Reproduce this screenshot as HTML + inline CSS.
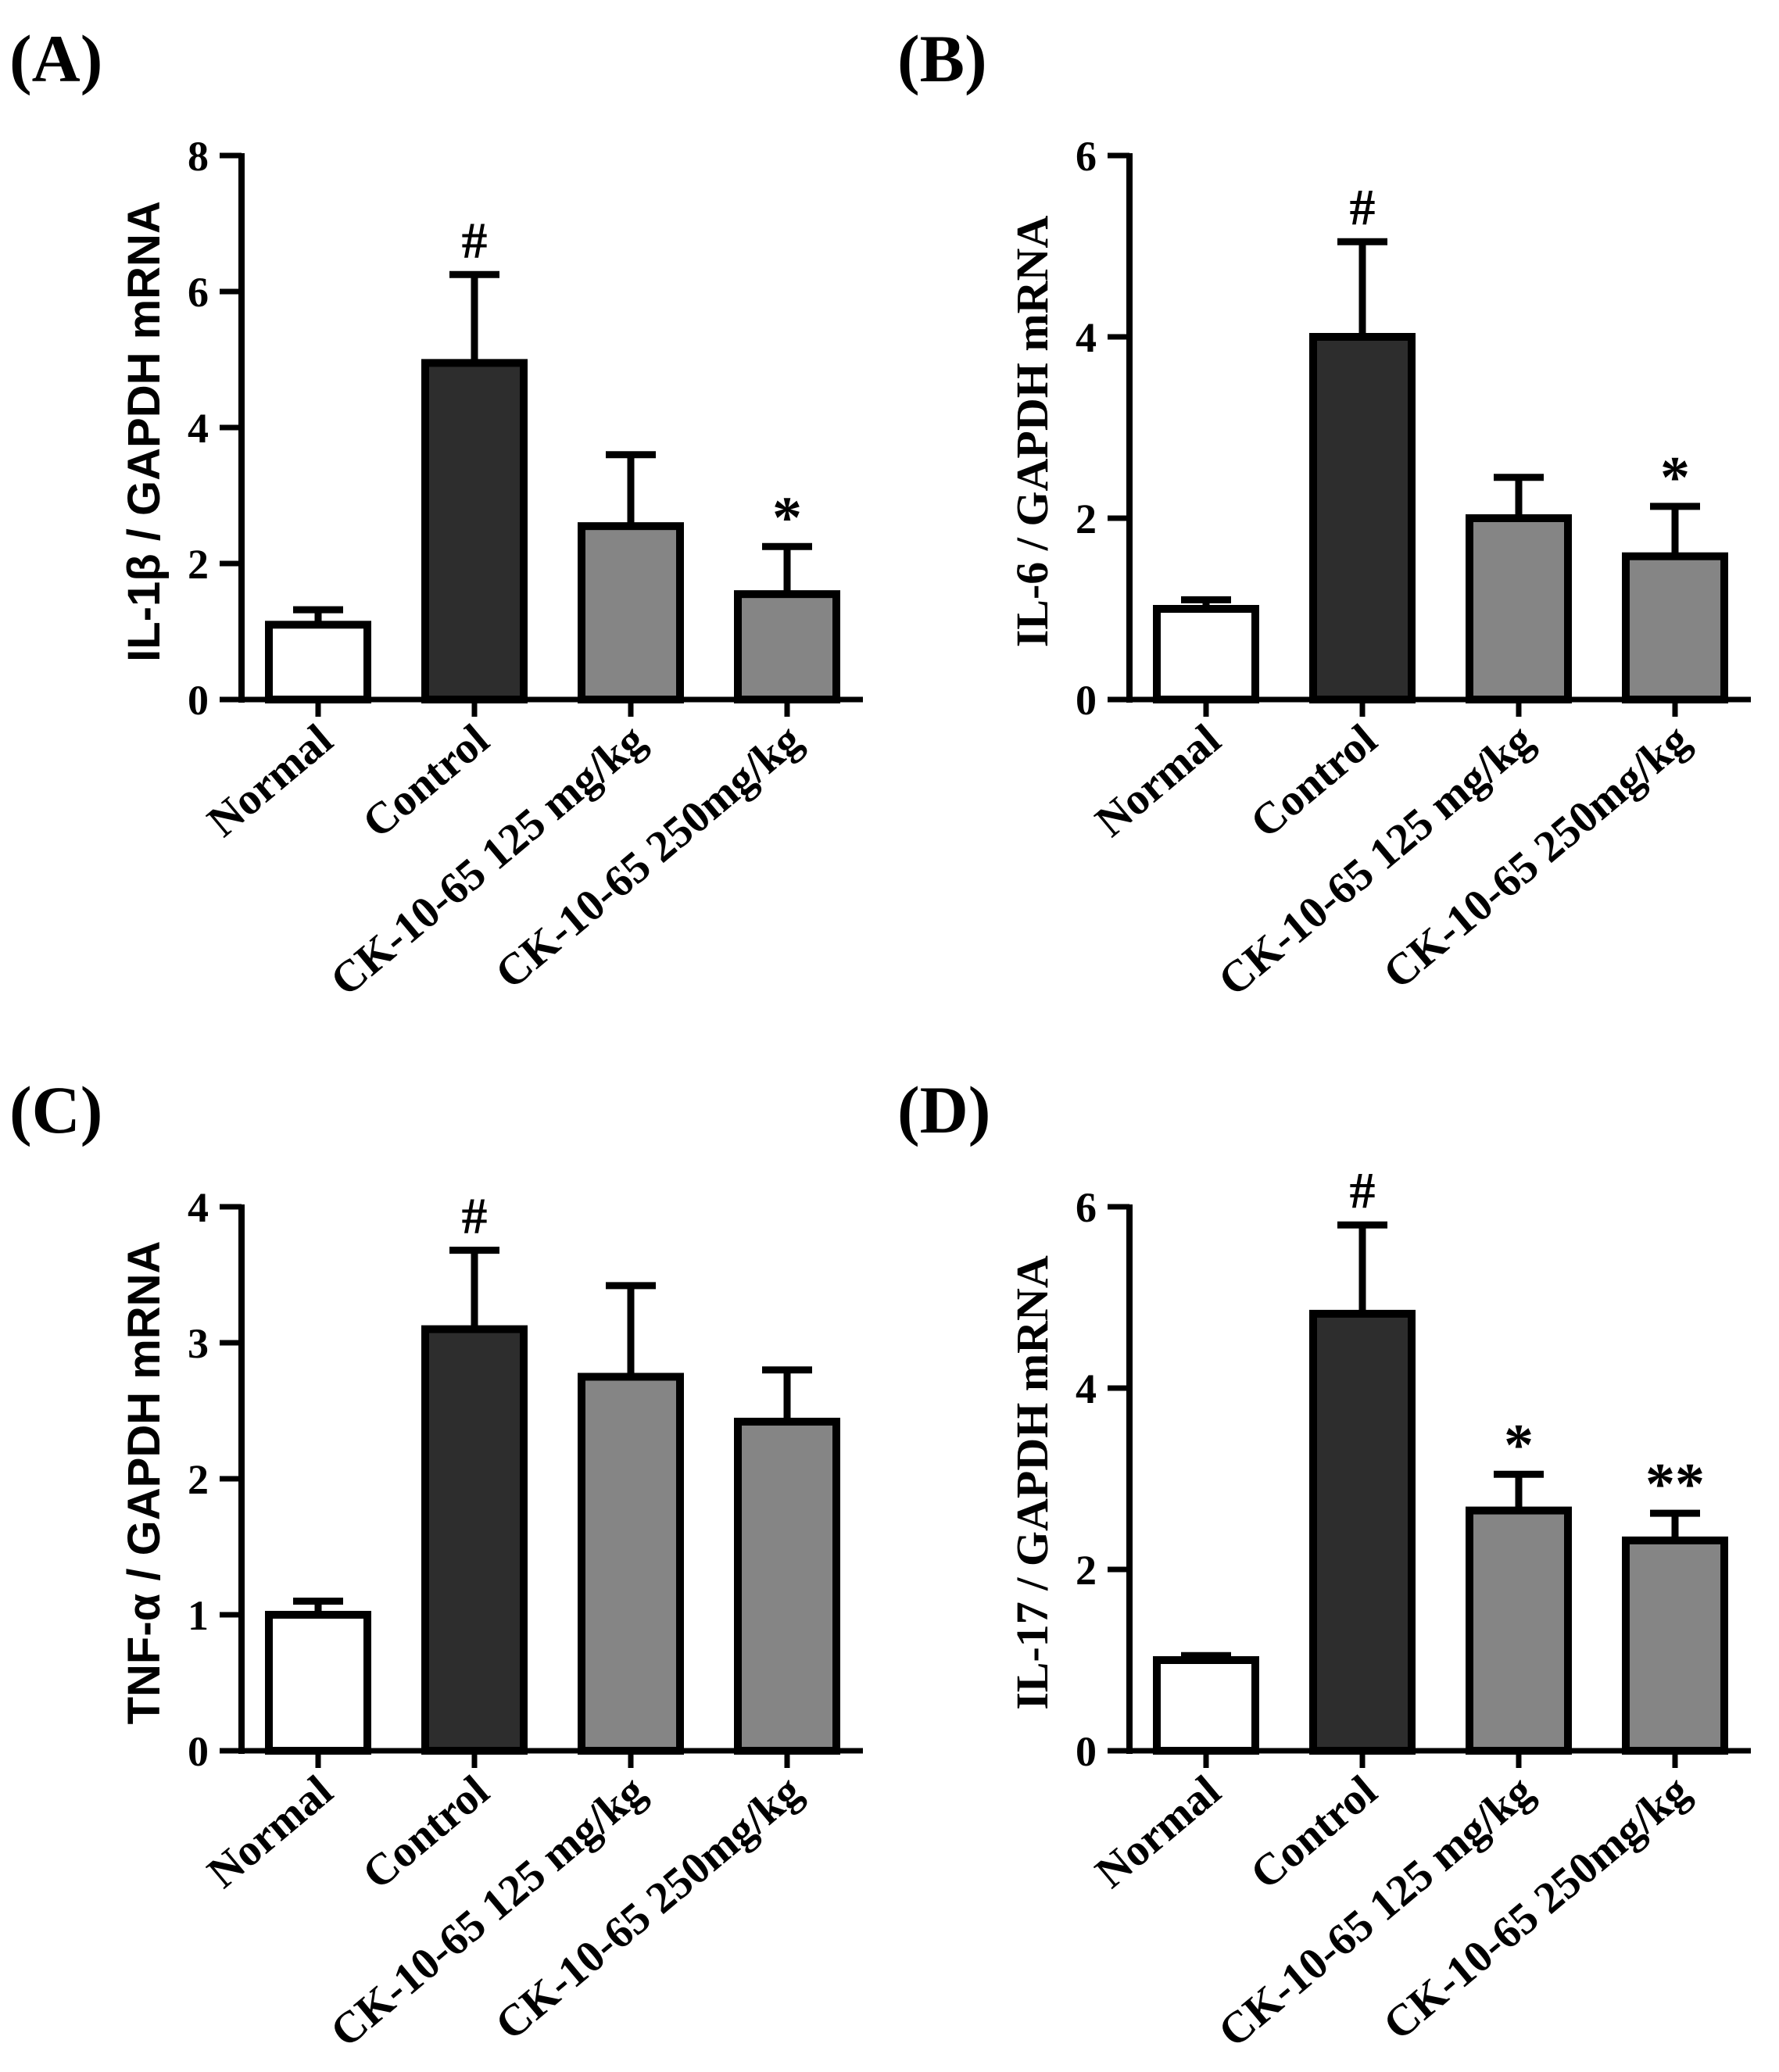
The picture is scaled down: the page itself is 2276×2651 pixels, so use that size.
<!DOCTYPE html>
<html><head><meta charset="utf-8"><style>
html,body{margin:0;padding:0;background:#fff}
svg{display:block}
</style></head><body>
<svg id="fig" width="2276" height="2651" viewBox="0 0 2276 2651" xmlns="http://www.w3.org/2000/svg"></svg>
<script>
const categories = ["Normal","Control","CK-10-65 125 mg/kg","CK-10-65 250mg/kg"];
const valuesA = [1.1, 4.95, 2.55, 1.55];
const errorsA = [0.22, 1.3, 1.05, 0.7];
const marksA = ["", "#", "", "*"];
const valuesB = [1.0, 4.0, 2.0, 1.58];
const errorsB = [0.1, 1.05, 0.45, 0.55];
const marksB = ["", "#", "", "*"];
const valuesC = [1.0, 3.1, 2.75, 2.42];
const errorsC = [0.1, 0.58, 0.67, 0.38];
const marksC = ["", "#", "", ""];
const valuesD = [1.0, 4.82, 2.65, 2.32];
const errorsD = [0.05, 0.98, 0.4, 0.3];
const marksD = ["", "#", "*", "**"];
const ticksA = [0,2,4,6,8];
const ticksB = [0,2,4,6];
const ticksC = [0,1,2,3,4];
const ticksD = [0,2,4,6];

const NS = "http://www.w3.org/2000/svg";
const svg = document.getElementById('fig');
function mk(tag, attrs, parent, text){
  const e = document.createElementNS(NS, tag);
  for (const k in attrs) e.setAttribute(k, attrs[k]);
  if (text !== undefined) e.textContent = text;
  (parent||svg).appendChild(e);
  return e;
}
const fills = ["#ffffff","#2d2d2d","#858585","#858585"];
const SERIF = '"Liberation Serif", serif';
const SANS = '"Liberation Sans", sans-serif';

function panel(id, letter, ox, oy, values, errors, marks, ticks, title, titleFont){
  const g = mk('g', {});
  
  
  const axX = ox + 309, top = oy + 199, zero = oy + 895, axEnd = ox + 1104;
  const ymax = ticks[ticks.length-1];
  const y = v => zero - (v / ymax) * (zero - top);
  const x = i => ox + 407 + i * 200;
  const L = mk('text', {x: ox + 12, y: oy + 104, 'font-family': SERIF, 'font-weight': 'bold', 'font-size': 86, fill: '#000'}, g, '(' + letter + ')');
  
  
  values.forEach((v, i) => {
    const bw = 126, cx = x(i);
    const eb = mk('line', {x1: cx, x2: cx, y1: y(v), y2: y(v + errors[i]), stroke: '#000', 'stroke-width': 9}, g);
    
    
    const cap = mk('line', {x1: cx - 32, x2: cx + 32, y1: y(v + errors[i]), y2: y(v + errors[i]), stroke: '#000', 'stroke-width': 9}, g);
    
    
    const r = mk('rect', {x: cx - bw/2, y: y(v), width: bw, height: zero - y(v), fill: fills[i], stroke: '#000', 'stroke-width': 10}, g);
    
    
    if (marks[i]) {
      const isHash = marks[i] === '#';
      const m = mk('text', {x: cx, y: y(v + errors[i]) - (isHash ? 22 : 12), 'text-anchor': 'middle', 'font-family': SERIF, 'font-weight': 'bold', 'font-size': isHash ? 66 : 76, fill: '#000'}, g, marks[i]);
      
      
    }
    const tk = mk('line', {x1: cx, x2: cx, y1: zero, y2: zero + 22, stroke: '#000', 'stroke-width': 7}, g);
    
    
    const ax = cx + 22, ay = zero + 58;
    const t = mk('text', {x: ax, y: ay, 'text-anchor': 'end', 'font-family': SERIF, 'font-weight': 'bold', 'font-size': 57, fill: '#000', transform: 'rotate(-40 ' + ax + ' ' + ay + ')'}, g, categories[i]);
    
    
  });
  const ya = mk('line', {x1: axX, x2: axX, y1: top - 3, y2: zero + 4, stroke: '#000', 'stroke-width': 8}, g);
  
  
  const xa = mk('line', {x1: axX - 28, x2: axEnd, y1: zero, y2: zero, stroke: '#000', 'stroke-width': 7}, g);
  
  
  ticks.forEach(t => {
    const tl = mk('line', {x1: axX - 28, x2: axX, y1: y(t), y2: y(t), stroke: '#000', 'stroke-width': 7}, g);
    
    
    const tt = mk('text', {x: axX - 42, y: y(t) + 19, 'text-anchor': 'end', 'font-family': SERIF, 'font-weight': 'bold', 'font-size': 54, fill: '#000'}, g, String(t));
    
    
  });
  const tx = ox + 204, ty = (top + zero) / 2 + 5;
  const yt = mk('text', {x: tx, y: ty, 'text-anchor': 'middle', 'font-family': titleFont, 'font-weight': 'bold', 'font-size': 58, fill: '#000', transform: 'rotate(-90 ' + tx + ' ' + ty + ')'}, g, title);
  
  
}
panel('a', 'A', 0, 0, valuesA, errorsA, marksA, ticksA, 'IL-1β / GAPDH mRNA', SANS);
panel('b', 'B', 1136, 0, valuesB, errorsB, marksB, ticksB, 'IL-6 / GAPDH mRNA', SERIF);
panel('c', 'C', 0, 1345, valuesC, errorsC, marksC, ticksC, 'TNF-α / GAPDH mRNA', SANS);
panel('d', 'D', 1136, 1345, valuesD, errorsD, marksD, ticksD, 'IL-17 / GAPDH mRNA', SERIF);
</script>
</body></html>
